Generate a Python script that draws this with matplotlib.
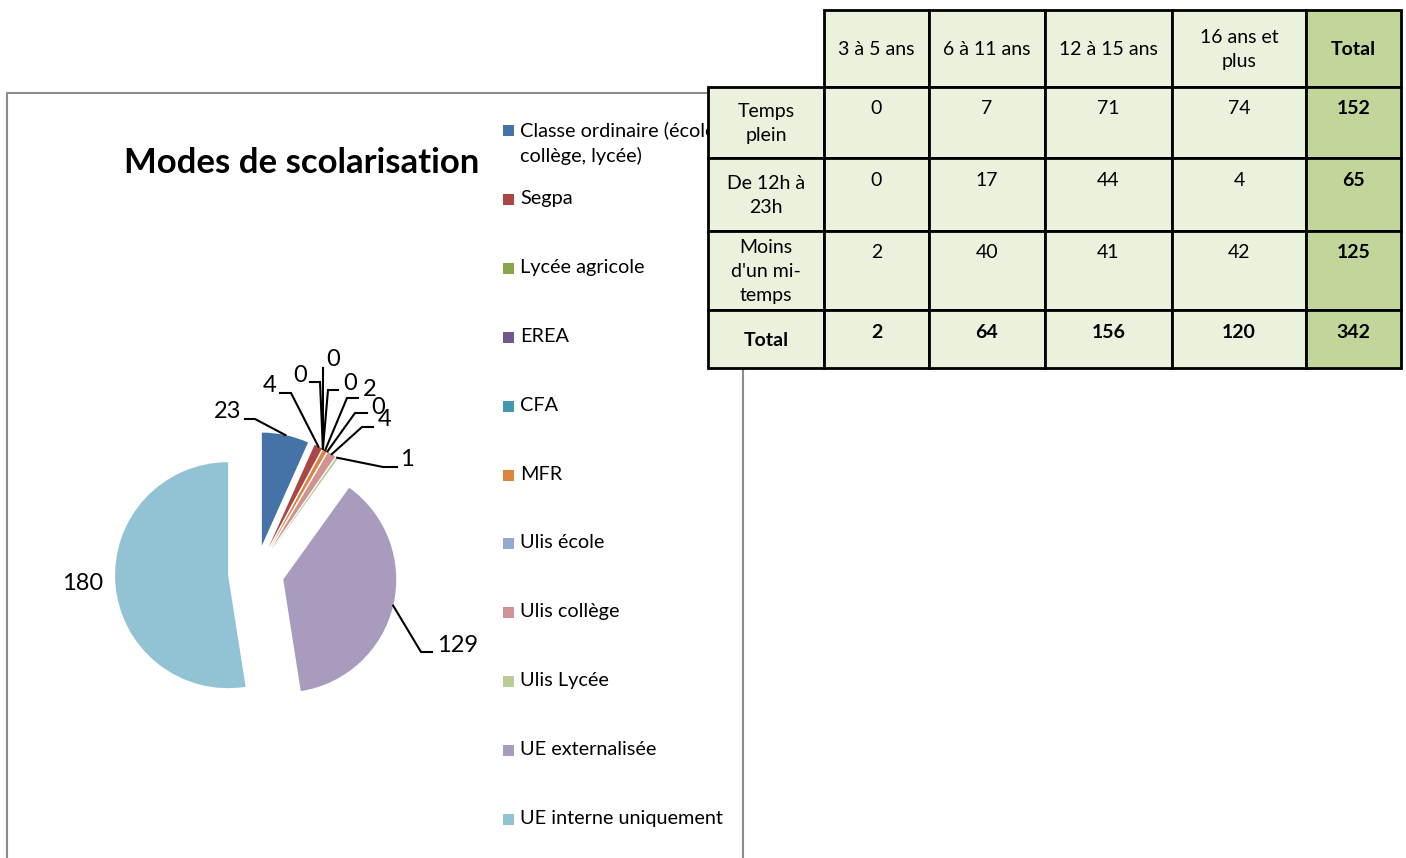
import numpy as np
import matplotlib
matplotlib.use("Agg")
import matplotlib.pyplot as plt
from matplotlib.patches import Rectangle

W, H = 1406, 858

# --- Pie data: modes de scolarisation ---
modes = [
    "Classe ordinaire (école,\ncollège, lycée)",
    "Segpa",
    "Lycée agricole",
    "EREA",
    "CFA",
    "MFR",
    "Ulis école",
    "Ulis collège",
    "Ulis Lycée",
    "UE externalisée",
    "UE interne uniquement",
]
effectifs = [23, 4, 0, 0, 0, 2, 0, 4, 1, 129, 180]
couleurs = ["#4572A7", "#AA4643", "#89A54E", "#71588F", "#4198AF", "#DB843D",
            "#93A9CF", "#D19392", "#B9CD96", "#A99BBD", "#92C3D4"]

# --- Table data: temps de scolarisation par tranche d'âge ---
tranches = ["3 à 5 ans", "6 à 11 ans", "12 à 15 ans", "16 ans et\nplus", "Total"]
temps = ["Temps\nplein", "De 12h à\n23h", "Moins\nd'un mi-\ntemps", "Total"]
tableau = [
    [0, 7, 71, 74, 152],
    [0, 17, 44, 4, 65],
    [2, 40, 41, 42, 125],
    [2, 64, 156, 120, 342],
]

FONT = "Lato"

# label positions (pixel, y down) and leader elbow/end points
label_pos = [(228, 411), (270, 386), (300, 375), (333, 360), (350, 383), (370, 390),
             (378, 407), (385, 420), (407, 459), (458, 645), (83, 584)]
leader_pts = [((255, 419), (245, 419)), ((291, 393), (280, 393)), ((320, 382), (310, 382)),
              ((323, 368), (323, 368)), ((328, 390), (338, 390)), ((347, 398), (358, 398)),
              ((355, 413), (367, 413)), ((362, 427), (373, 427)), ((383, 467), (397, 467)),
              ((421, 652), (432, 652)), None]


def py(y):
    return H - y


fig = plt.figure(figsize=(W / 100, H / 100), dpi=100)
ax = fig.add_axes([0, 0, 1, 1])

# chart frame
ax.plot([7, 7, 743, 743], [py(858), py(93), py(93), py(858)], color="#8c8c8c", lw=1.5, zorder=1)

ax.text(302, py(163), "Modes de scolarisation", fontsize=25, fontweight="bold",
        family=FONT, ha="center", va="center")

# pie radius 113 px, every slice pulled out by 28 px
wedges, _ = ax.pie(effectifs, colors=couleurs, startangle=90, counterclock=False,
                   center=(256, py(573)), radius=113, explode=[28] * len(effectifs),
                   wedgeprops=dict(linewidth=0), frame=True)

for w, val, (lx, ly), lead in zip(wedges, effectifs, label_pos, leader_pts):
    ang = np.deg2rad((w.theta1 + w.theta2) / 2)
    cx, cy = w.center
    ax0 = cx + w.r * np.cos(ang)
    ay0 = cy + w.r * np.sin(ang)
    if lead is not None:
        (ex, ey), (fx, fy) = lead
        ax.plot([ax0, ex, fx], [ay0, py(ey), py(fy)], color="black", lw=1.5,
                solid_joinstyle="miter", zorder=3)
    ax.text(lx, py(ly), str(val), fontsize=17, family=FONT, ha="center", va="center", zorder=4)

# legend
for i, (m, c) in enumerate(zip(modes, couleurs)):
    y = 130 + i * 68.9
    ax.add_patch(Rectangle((503, py(y) - 6), 11, 11, color=c, lw=0, zorder=2))
    ax.text(520, py(y) + 9, m, fontsize=14.3, family=FONT, ha="left", va="top",
            linespacing=1.55, zorder=2)

# table
col_x = [708, 824, 929, 1045, 1172, 1306, 1401]
row_y = [10, 87, 158, 231, 310, 368]
vert = "#EAF1DD"
vert_fonce = "#C2D69B"
fs_tab = 14

for j, t in enumerate(tranches):
    x0, x1 = col_x[j + 1], col_x[j + 2]
    fc = vert_fonce if t == "Total" else vert
    ax.add_patch(Rectangle((x0, py(row_y[1])), x1 - x0, row_y[1] - row_y[0],
                           facecolor=fc, edgecolor="black", lw=2, zorder=5))
    ax.text((x0 + x1) / 2, py((row_y[0] + row_y[1]) / 2 + 1), t, fontsize=fs_tab, family=FONT,
            ha="center", va="center", linespacing=1.5,
            fontweight="bold" if t == "Total" else "normal", zorder=6)

for i, (lab, ligne) in enumerate(zip(temps, tableau)):
    y0, y1 = row_y[i + 1], row_y[i + 2]
    ax.add_patch(Rectangle((col_x[0], py(y1)), col_x[1] - col_x[0], y1 - y0,
                           facecolor=vert, edgecolor="black", lw=2, zorder=5))
    ax.text((col_x[0] + col_x[1]) / 2, py((y0 + y1) / 2 + 1), lab, fontsize=fs_tab, family=FONT,
            ha="center", va="center", linespacing=1.5,
            fontweight="bold" if lab == "Total" else "normal", zorder=6)
    for j, v in enumerate(ligne):
        x0, x1 = col_x[j + 1], col_x[j + 2]
        total = lab == "Total" or j == len(ligne) - 1
        fc = vert_fonce if j == len(ligne) - 1 else vert
        ax.add_patch(Rectangle((x0, py(y1)), x1 - x0, y1 - y0,
                               facecolor=fc, edgecolor="black", lw=2, zorder=5))
        ax.text((x0 + x1) / 2, py(y0 + 22), str(v), fontsize=fs_tab, family=FONT,
                ha="center", va="center", fontweight="bold" if total else "normal", zorder=6)

ax.set_xlim(0, W)
ax.set_ylim(0, H)
ax.set_aspect("auto")
ax.axis("off")

fig.savefig("out.png", dpi=100)
